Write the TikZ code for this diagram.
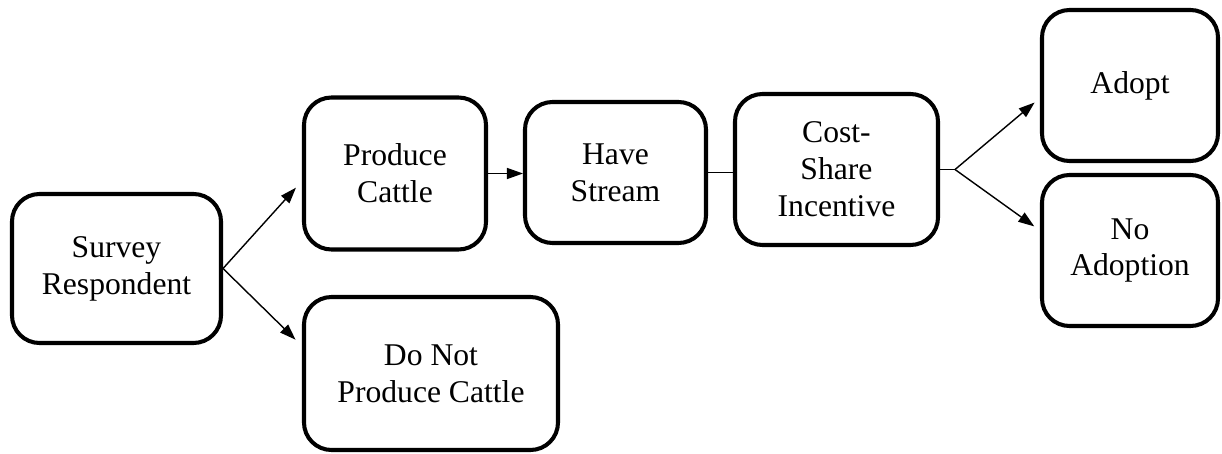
\documentclass[tikz,border=0pt]{standalone}
\usepackage{fontspec}
\setmainfont{Liberation Serif}
\usepackage{tikz}
\usetikzlibrary{arrows.meta}

\begin{document}
\begin{tikzpicture}[line cap=round,
  box/.style={draw,line width=2.3pt,rounded corners=0.55cm,align=center,
    font=\fontsize{18}{21}\selectfont},
  arr/.style={-{Triangle[length=0.32cm,width=0.22cm]},line width=0.8pt}]
  \useasboundingbox (0,0) rectangle (24.44,-9.06);
  % the respondent and the two first branches
  \node[box,minimum width=4.18cm,minimum height=2.98cm] (survey) at (2.33,-5.37) {Survey\\Respondent};
  \node[box,minimum width=3.64cm,minimum height=3.04cm] (produce) at (7.90,-3.47) {Produce\\Cattle};
  \node[box,minimum width=5.08cm,minimum height=3.06cm] (donot) at (8.62,-7.47) {Do Not\\Produce Cattle};
  % the chain to the incentive
  \node[box,minimum width=3.62cm,minimum height=2.82cm] (have) at (12.31,-3.45) {Have\\Stream};
  \node[box,minimum width=4.06cm,minimum height=3.02cm] (cost) at (16.73,-3.39) {Cost-\\Share\\Incentive};
  % the two outcomes
  \node[box,minimum width=3.52cm,minimum height=3.02cm] (adopt) at (22.60,-1.71) {Adopt};
  \node[box,minimum width=3.52cm,minimum height=3.02cm] (noadopt) at (22.60,-5.01) {No\\Adoption};
  \draw[arr,shorten >=0.18cm] (survey.east) -- ([yshift=-0.15cm]produce.west);
  \draw[arr,shorten >=0.18cm] (survey.east) -- ([yshift=0.55cm]donot.west);
  \draw[arr] (produce.east) -- (produce.east -| have.west);
  \draw[line width=0.8pt] (have.east) -- (have.east -| cost.west);
  \coordinate (fork) at ([xshift=0.3cm]cost.east);
  \draw[line width=0.8pt] (cost.east) -- (fork);
  \draw[arr,shorten >=0.14cm] (fork) -- ([yshift=-0.25cm]adopt.west);
  \draw[arr,shorten >=0.14cm] (fork) -- ([yshift=0.4cm]noadopt.west);
\end{tikzpicture}
\end{document}
